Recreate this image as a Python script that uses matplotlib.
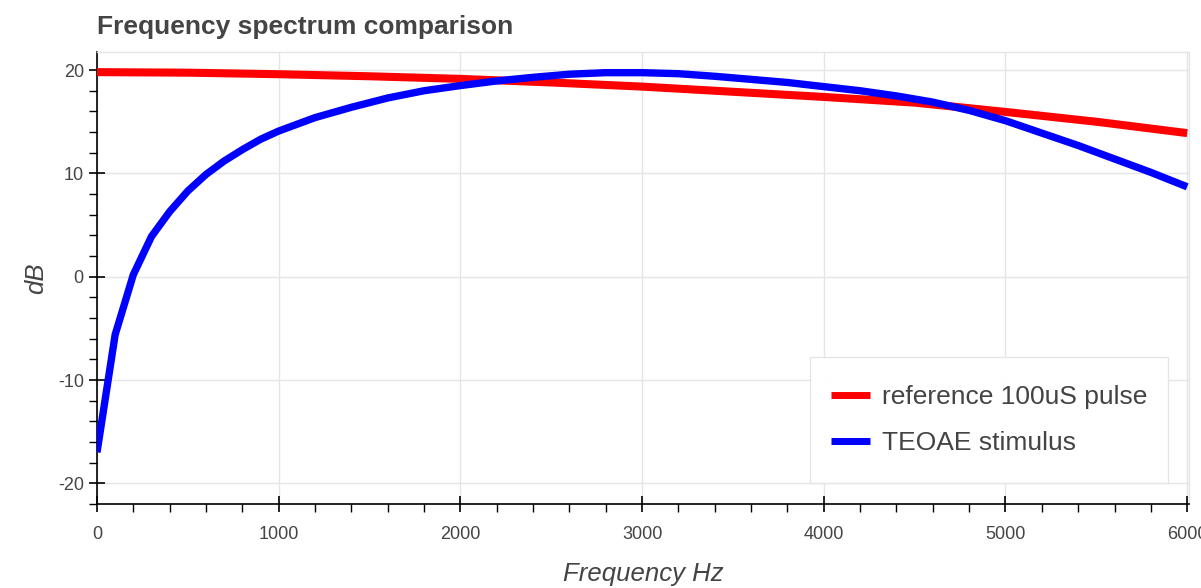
import matplotlib
matplotlib.use("Agg")
import matplotlib.pyplot as plt
from matplotlib.ticker import MultipleLocator
from matplotlib.patches import Rectangle

# ---- data ----
ref_freq = [0, 500, 1000, 1500, 2000, 2500, 3000, 3500, 4000, 4500, 5000, 5500, 6000]
ref_db = [19.8, 19.75, 19.6, 19.4, 19.15, 18.8, 18.4, 17.9, 17.4, 16.85, 15.95, 15.0, 13.9]

teoae_freq = [0, 100, 200, 300, 400, 500, 600, 700, 800, 900, 1000, 1200, 1400, 1600,
              1800, 2000, 2200, 2400, 2600, 2800, 3000, 3200, 3400, 3600, 3800, 4000,
              4200, 4400, 4600, 4800, 5000, 5200, 5400, 5600, 5800, 6000]
teoae_db = [-17.0, -5.6, 0.2, 3.9, 6.3, 8.3, 9.9, 11.2, 12.3, 13.3, 14.1, 15.4, 16.4, 17.3,
            18.0, 18.5, 18.95, 19.3, 19.6, 19.75, 19.75, 19.65, 19.4, 19.1, 18.8, 18.4,
            18.0, 17.5, 16.9, 16.1, 15.1, 13.9, 12.7, 11.4, 10.1, 8.7]

series_labels = ["reference 100uS pulse", "TEOAE stimulus"]
title = "Frequency spectrum comparison"
xlabel = "Frequency Hz"
ylabel = "dB"

plt.rcParams['font.family'] = ['Liberation Sans', 'DejaVu Sans']
plt.rcParams['axes.unicode_minus'] = False
txt = '#444444'
grid = '#e5e5e5'

W, H = 1201, 588
fig = plt.figure(figsize=(W / 100, H / 100), dpi=100)
ax = fig.add_axes([97 / W, 1 - 504 / H, (1189 - 97) / W, (504 - 52) / H])

ax.plot(ref_freq, ref_db, color='#ff0000', lw=5.8, solid_capstyle='butt',
        label=series_labels[0], zorder=3)
ax.plot(teoae_freq, teoae_db, color='#0000ff', lw=5.3, solid_capstyle='butt',
        label=series_labels[1], zorder=3)

ax.set_xlim(0, 6010)
ax.set_ylim(-22.0, 21.75)

ax.xaxis.set_major_locator(MultipleLocator(1000))
ax.xaxis.set_minor_locator(MultipleLocator(200))
ax.yaxis.set_major_locator(MultipleLocator(10))
ax.yaxis.set_minor_locator(MultipleLocator(2))

ax.grid(True, which='major', color=grid, lw=1.0, zorder=0)
for side in ['top', 'right']:
    ax.spines[side].set_color(grid)
    ax.spines[side].set_linewidth(1.0)
for side in ['left', 'bottom']:
    ax.spines[side].set_color('black')
    ax.spines[side].set_linewidth(1.2)

ax.tick_params(which='major', direction='inout', length=11, width=1.2, color='black',
               labelsize=13, labelcolor=txt, pad=4)
ax.tick_params(axis='x', which='major', pad=10)
ax.tick_params(which='minor', direction='out', length=6, width=1.0, color='black')

ax.set_ylabel(ylabel, fontsize=18.5, style='italic', color=txt, labelpad=7)
fig.text(((97 + 1189) / 2) / W, 1 - 574 / H, xlabel, fontsize=18.5, style='italic',
         color=txt, ha='center', va='center')

fig.text(97 / W, 1 - 27 / H, title, fontsize=19, fontweight='bold', color=txt,
         ha='left', va='center')

# legend box (Bokeh style, square corners)
ax_w, ax_h = 1189 - 97, 504 - 52
bx0, bx1, by0, by1 = 810, 1168, 357, 483
rect = Rectangle(((bx0 - 97) / ax_w, (504 - by1) / ax_h), (bx1 - bx0) / ax_w,
                 (by1 - by0) / ax_h, transform=ax.transAxes, facecolor='white',
                 edgecolor=grid, lw=1.0, alpha=0.97, zorder=4)
ax.add_patch(rect)
leg = ax.legend(loc='center', bbox_to_anchor=(((bx0 + bx1) / 2 - 97) / ax_w,
                                              (504 - (by0 + by1) / 2) / ax_h),
                fontsize=19, frameon=False, handlelength=1.5, handletextpad=0.45,
                borderpad=0, labelspacing=0.82, borderaxespad=0)
leg.set_zorder(5)
for t in leg.get_texts():
    t.set_color(txt)
for l in leg.get_lines():
    l.set_linewidth(5.0)

fig.savefig('out.png', dpi=100)
